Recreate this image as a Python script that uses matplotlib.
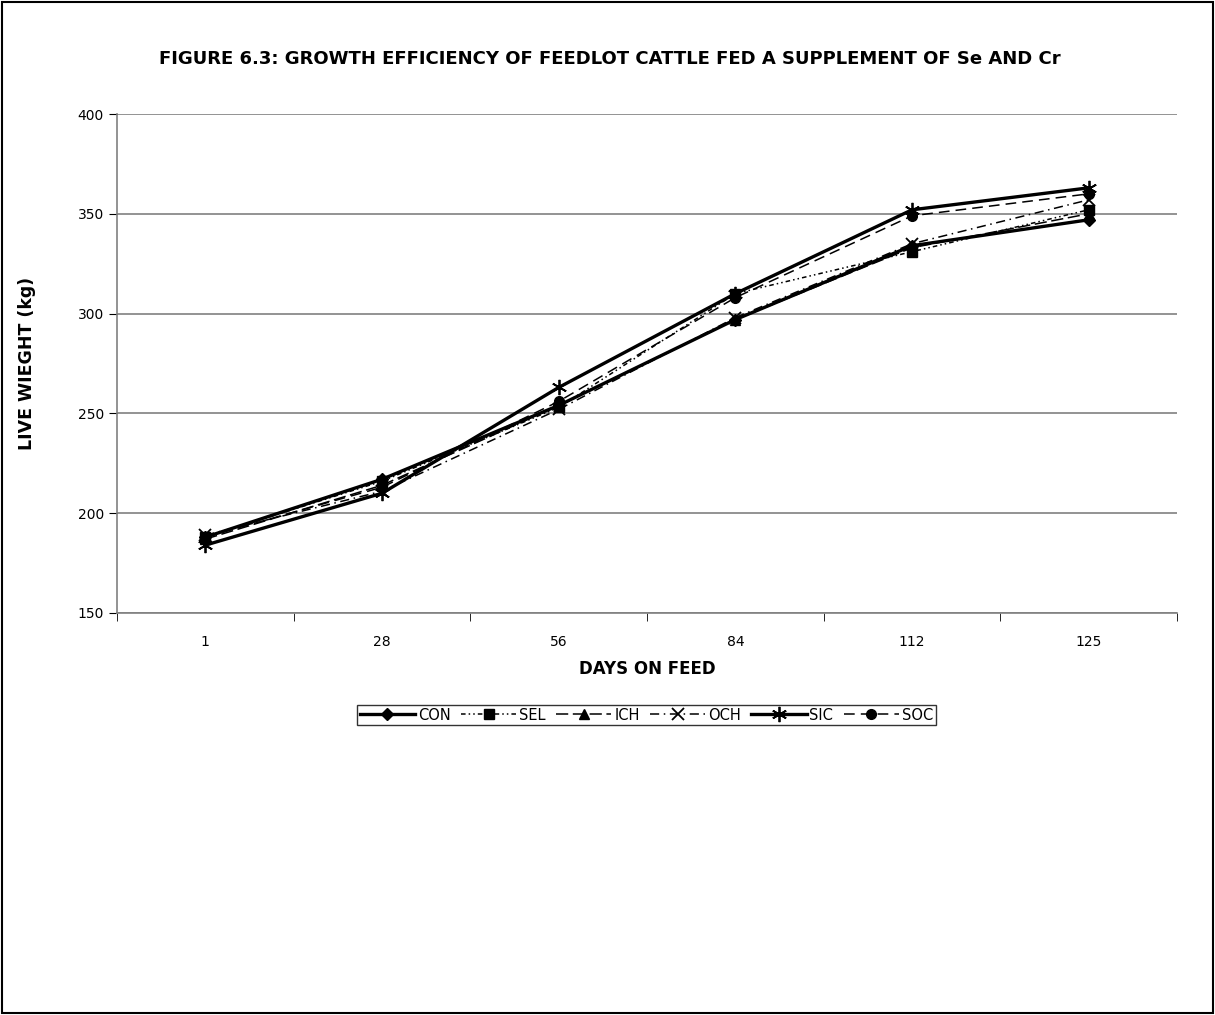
import numpy as np
from matplotlib import pyplot as plt
from matplotlib.patches import Rectangle

# Dager paa fôr og levendevekt for hver behandling
days = ['1', '28', '56', '84', '112', '125']
con = [188, 217, 254, 297, 334, 347]
sel = [188, 216, 253, 310, 331, 352]
ich = [187, 214, 254, 297, 333, 350]
och = [189, 211, 252, 298, 335, 357]
sic = [184, 210, 263, 310, 352, 363]
soc = [188, 213, 256, 308, 349, 360]

series = [
    ('CON', con, dict(ls='-', lw=2.4, marker='D', ms=6)),
    ('SEL', sel, dict(ls=(0, (3, 2, 1, 2, 1, 2)), lw=1.1, marker='s', ms=7)),
    ('ICH', ich, dict(ls=(0, (8, 3)), lw=1.1, marker='^', ms=7)),
    ('OCH', och, dict(ls=(0, (6, 3, 1, 3)), lw=1.1, marker='x', ms=8, mew=1.3)),
    ('SIC', sic, dict(ls='-', lw=2.4, marker=(6, 2, 0), ms=11, mew=1.3)),
    ('SOC', soc, dict(ls=(0, (7, 4)), lw=1.1, marker='o', ms=7)),
]

fig = plt.figure(figsize=(12.15, 10.15), dpi=100)
ax = fig.add_axes([117/1215, 1 - 613/1015, 1060/1215, 499/1015])

x = np.arange(len(days))
for name, vals, style in series:
    ax.plot(x, vals, color='black', label=name, **style)

ax.set_xlim(-0.5, len(days) - 0.5)
ax.set_ylim(150, 400)
ax.set_yticks(np.arange(150, 401, 50))
ax.set_xticks(x)
ax.set_xticklabels(days)
ax.set_xticks(np.arange(-0.5, len(days)), minor=True)
ax.tick_params(axis='x', which='major', length=0, pad=16, labelsize=10)
ax.tick_params(axis='x', which='minor', length=6, direction='out')
ax.tick_params(axis='y', length=6, direction='out', labelsize=10)
ax.yaxis.grid(True, color='#808080', lw=1.2)
ax.set_axisbelow(True)
for side in ['top', 'right']:
    ax.spines[side].set_visible(False)
for side in ['left', 'bottom']:
    ax.spines[side].set_color('#808080')
    ax.spines[side].set_linewidth(1.2)

ax.set_xlabel('DAYS ON FEED', fontweight='bold', fontsize=12, labelpad=8)
ax.set_ylabel('LIVE WIEGHT (kg)', fontweight='bold', fontsize=12.5, labelpad=30)
fig.text(0.502, 1 - 59/1015, 'FIGURE 6.3: GROWTH EFFICIENCY OF FEEDLOT CATTLE FED A SUPPLEMENT OF Se AND Cr',
         ha='center', va='center', fontweight='bold', fontsize=13)

leg = fig.legend(loc='center', bbox_to_anchor=(0.532, 1 - 715/1015), ncol=6,
                 fontsize=10.5, frameon=True, fancybox=False, handlelength=3.8,
                 handletextpad=0.2, columnspacing=0.7, borderpad=0.2)
leg.get_frame().set_edgecolor('black')
leg.get_frame().set_linewidth(1.0)

# ramme rundt hele figuren
fig.patches.append(Rectangle((0.002, 0.002), 0.996, 0.996, transform=fig.transFigure,
                             fill=False, edgecolor='black', lw=1.5))

fig.savefig('out.png', dpi=100)
